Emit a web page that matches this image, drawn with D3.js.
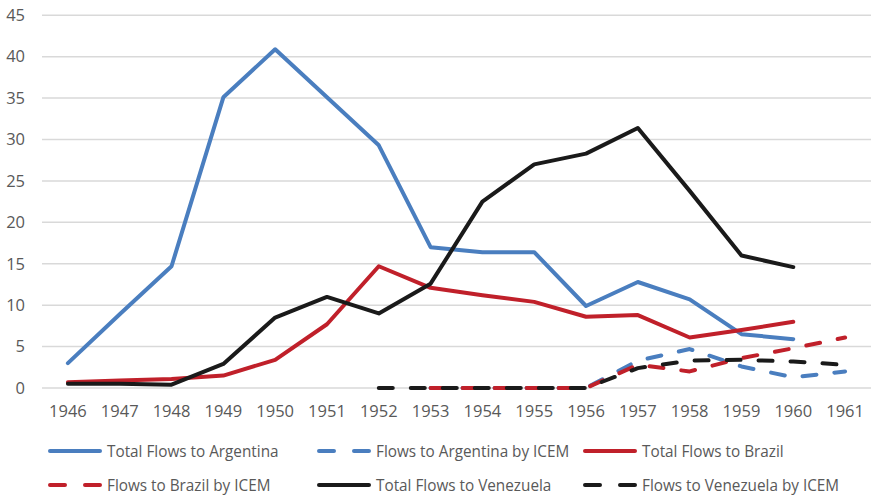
<!DOCTYPE html>
<html>
<head>
    <meta charset="utf-8" />
    <style>
        body { margin: 0; background: #fff; }
        svg { display: block; }
        .tick-label { font-family: "Open Sans", sans-serif; font-size: 16.5px; fill: #595959; }
        .legend text { font-family: "Open Sans", sans-serif; font-size: 17px; fill: #595959; }
    </style>
</head>
<body>
<div id="chart"></div>
<script src="https://d3js.org/d3.v7.min.js"></script>
<script>
    (function(d3) {
        'use strict';

        var years = ['1946', '1947', '1948', '1949', '1950', '1951', '1952', '1953',
            '1954', '1955', '1956', '1957', '1958', '1959', '1960', '1961'];
        var yTicks = [0, 5, 10, 15, 20, 25, 30, 35, 40, 45];

        var argTotal = [3.0, 8.9, 14.7, 35.1, 40.9, 35.1, 29.3, 17.0, 16.4, 16.4, 9.9, 12.8, 10.7, 6.5, 5.9, null];
        var argIcem = [null, null, null, null, null, null, null, 0, 0, 0, 0, 3.3, 4.7, 2.6, 1.3, 2.0];
        var braTotal = [0.7, 0.9, 1.1, 1.5, 3.4, 7.7, 14.7, 12.1, 11.2, 10.4, 8.6, 8.8, 6.1, 7.0, 8.0, null];
        var braIcem = [null, null, null, null, null, null, null, 0, 0, 0, 0, 2.8, 2.0, 3.6, 4.8, 6.1];
        var venTotal = [0.5, 0.5, 0.4, 2.9, 8.5, 11.0, 9.0, 12.6, 22.5, 27.0, 28.3, 31.4, 23.8, 16.0, 14.6, null];
        var venIcem = [null, null, null, null, null, null, 0, 0, 0, 0, 0, 2.4, 3.3, 3.4, 3.2, 2.8];

        var seriesNames = ['Total Flows to Argentina', 'Flows to Argentina by ICEM', 'Total Flows to Brazil',
            'Flows to Brazil by ICEM', 'Total Flows to Venezuela', 'Flows to Venezuela by ICEM'];

        var series = [
            {name: seriesNames[0], values: argTotal, color: '#4a7ebf', dashed: false},
            {name: seriesNames[1], values: argIcem, color: '#4a7ebf', dashed: true},
            {name: seriesNames[2], values: braTotal, color: '#c0202a', dashed: false},
            {name: seriesNames[3], values: braIcem, color: '#c0202a', dashed: true},
            {name: seriesNames[4], values: venTotal, color: '#1a1a1a', dashed: false},
            {name: seriesNames[5], values: venIcem, color: '#1a1a1a', dashed: true}
        ];

        var width = 873;
        var height = 496;
        var left = 42, right = 871, top = 15.3, bottom = 388;

        var svg = d3.select('#chart')
            .append('svg')
            .attr('width', width)
            .attr('height', height);

        var x = d3.scalePoint()
            .domain(years)
            .range([left, right])
            .padding(0.5);

        var y = d3.scaleLinear()
            .domain([0, 45])
            .range([bottom, top]);

        // gridlines
        svg.append('g')
            .selectAll('line')
            .data(yTicks)
            .enter()
            .append('line')
            .attr('x1', left)
            .attr('x2', right)
            .attr('y1', function(d) { return y(d); })
            .attr('y2', function(d) { return y(d); })
            .attr('stroke', '#d9d9d9')
            .attr('stroke-width', 1.5);

        svg.append('g')
            .selectAll('text')
            .data(yTicks)
            .enter()
            .append('text')
            .attr('class', 'tick-label')
            .attr('x', 25)
            .attr('y', function(d) { return y(d); })
            .attr('dy', '0.35em')
            .attr('text-anchor', 'end')
            .text(function(d) { return d; });

        svg.append('g')
            .selectAll('text')
            .data(years)
            .enter()
            .append('text')
            .attr('class', 'tick-label')
            .attr('x', function(d) { return x(d); })
            .attr('y', 411)
            .attr('dy', '0.35em')
            .attr('text-anchor', 'middle')
            .text(function(d) { return d; });

        var line = d3.line()
            .defined(function(d) { return d !== null; })
            .x(function(d, i) { return x(years[i]); })
            .y(function(d) { return y(d); });

        svg.append('g')
            .selectAll('path')
            .data(series)
            .enter()
            .append('path')
            .attr('d', function(d) { return line(d.values); })
            .attr('fill', 'none')
            .attr('stroke', function(d) { return d.color; })
            .attr('stroke-width', 4)
            .attr('stroke-linejoin', 'round')
            .attr('stroke-linecap', 'round')
            .attr('stroke-dasharray', function(d) { return d.dashed ? '14,18' : null; });

        // legend, 3 per row
        var legendCols = [48, 317, 583];
        var legendRows = [451, 485];

        var legend = svg.selectAll('.legend')
            .data(series)
            .enter()
            .append('g')
            .attr('class', 'legend')
            .attr('transform', function(d, i) {
                return 'translate(' + legendCols[i % 3] + ',' + legendRows[Math.floor(i / 3)] + ')';
            });

        legend.append('line')
            .attr('x1', 2)
            .attr('x2', 52)
            .attr('y1', 0)
            .attr('y2', 0)
            .attr('stroke', function(d) { return d.color; })
            .attr('stroke-width', 4)
            .attr('stroke-linecap', 'round')
            .attr('stroke-dasharray', function(d) { return d.dashed ? '15,20' : null; });

        // squeeze the text a bit, the original font is narrower
        legend.append('text')
            .attr('x', 59)
            .attr('y', 0)
            .attr('dy', '0.35em')
            .text(function(d) { return d.name; })
            .attr('lengthAdjust', 'spacingAndGlyphs')
            .attr('textLength', function() { return this.getComputedTextLength() * 0.9; });

    })(window.d3);
</script>
</body>
</html>
